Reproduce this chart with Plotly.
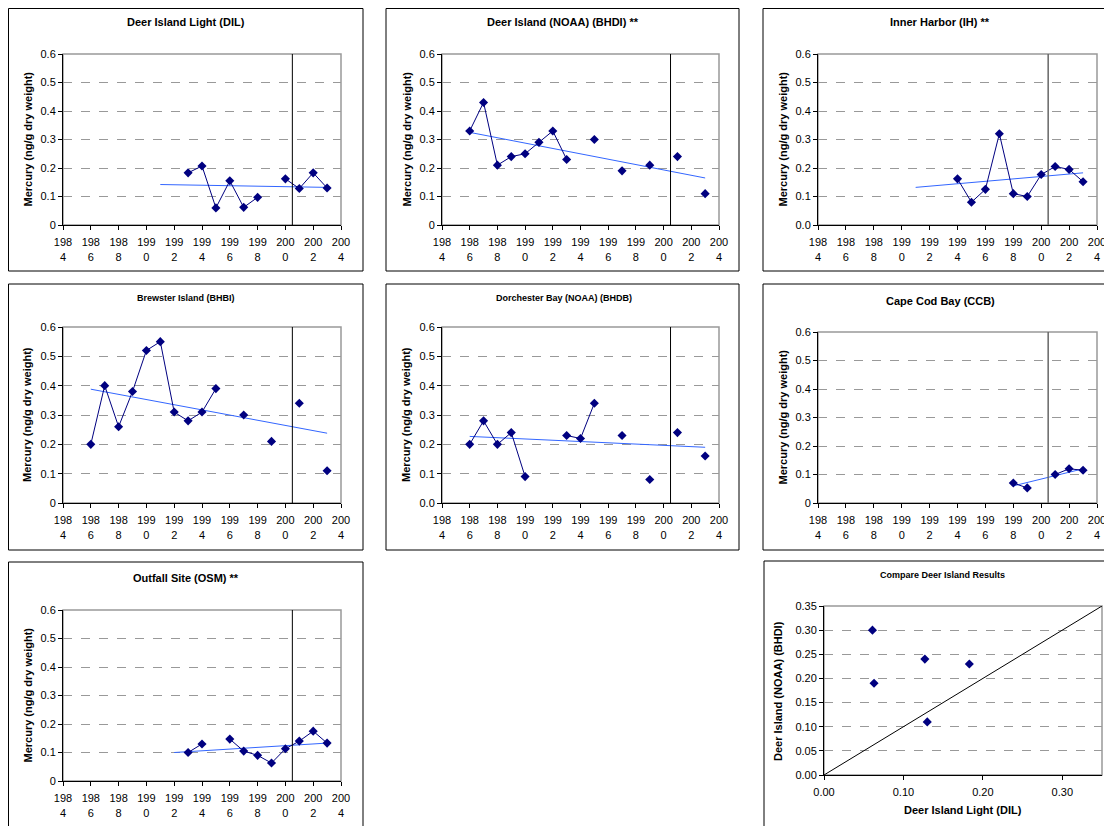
import plotly.graph_objects as go

W, H = 1112, 826

# ---------------- data ----------------
tick_years = [1984, 1986, 1988, 1990, 1992, 1994, 1996, 1998, 2000, 2002, 2004]
tick_year_text = ["198<br>4", "198<br>6", "198<br>8", "199<br>0", "199<br>2", "199<br>4",
                  "199<br>6", "199<br>8", "200<br>0", "200<br>2", "200<br>4"]
y_ticks = [0, 0.1, 0.2, 0.3, 0.4, 0.5, 0.6]
y_text_0 = ["0", "0.1", "0.2", "0.3", "0.4", "0.5", "0.6"]
y_text_00 = ["0.0", "0.1", "0.2", "0.3", "0.4", "0.5", "0.6"]

DIL_years = [1993, 1994, 1995, 1996, 1997, 1998, 1999, 2000, 2001, 2002, 2003]
DIL_hg = [0.183, 0.207, 0.060, 0.155, 0.062, 0.097, None, 0.162, 0.128, 0.183, 0.130]
DIL_trend_years = [1991, 2003]
DIL_trend = [0.142, 0.132]

BHDI_years = list(range(1986, 2004))
BHDI_hg = [0.33, 0.43, 0.21, 0.24, 0.25, 0.29, 0.33, 0.23, None, 0.30, None, 0.19,
           None, 0.21, None, 0.24, None, 0.11]
BHDI_trend_years = [1986, 2003]
BHDI_trend = [0.325, 0.165]

IH_years = list(range(1994, 2004))
IH_hg = [0.162, 0.080, 0.125, 0.320, 0.110, 0.100, 0.177, 0.205, 0.195, 0.152]
IH_trend_years = [1991, 2003]
IH_trend = [0.132, 0.183]

BHBI_years = list(range(1986, 2004))
BHBI_hg = [0.20, 0.40, 0.26, 0.38, 0.52, 0.55, 0.31, 0.28, 0.31, 0.39, None, 0.30,
           None, 0.21, None, 0.34, None, 0.11]
BHBI_trend_years = [1986, 2003]
BHBI_trend = [0.388, 0.238]

BHDB_years = list(range(1986, 2004))
BHDB_hg = [0.20, 0.28, 0.20, 0.24, 0.09, None, None, 0.23, 0.22, 0.34, None, 0.23,
           None, 0.08, None, 0.24, None, 0.16]
BHDB_trend_years = [1986, 2003]
BHDB_trend = [0.227, 0.190]

CCB_years = [1998, 1999, 2000, 2001, 2002, 2003]
CCB_hg = [0.070, 0.053, None, 0.100, 0.120, 0.115]
CCB_trend_years = [1998, 2003]
CCB_trend = [0.060, 0.120]

OSM_years = list(range(1993, 2004))
OSM_hg = [0.100, 0.130, None, 0.147, 0.105, 0.090, 0.063, 0.113, 0.140, 0.175, 0.133]
OSM_trend_years = [1992, 2003]
OSM_trend = [0.100, 0.133]

CMP_DIL = [0.061, 0.063, 0.127, 0.183, 0.130]
CMP_BHDI = [0.30, 0.19, 0.24, 0.23, 0.11]
CMP_line = [0, 0.35]
cmp_x_ticks = [0, 0.1, 0.2, 0.3]
cmp_y_ticks = [0, 0.05, 0.1, 0.15, 0.2, 0.25, 0.3, 0.35]

# ---------------- layout geometry (page pixels) ----------------
FONT = "Liberation Sans, Arial, sans-serif"
NAVY = "#000080"
TREND = "#3366FF"
GRID = "#999999"
OFF = 8  # page body margin: the figure div starts 8px into the page


def px_x(p):
    return (max(p, OFF + 0.5) - OFF) / W


def px_y(p):
    return 1 - (max(p, OFF + 0.5) - OFF) / H


panels = [
    dict(title="Deer Island Light (DIL)", x=DIL_years, y=DIL_hg, tx=DIL_trend_years, ty=DIL_trend,
         area=(63, 341, 54, 225), box=(8, 363, 5, 271), ylab=y_text_0, tsize=11, vc="#000000", tpos=(186, 22)),
    dict(title="Deer Island (NOAA) (BHDI) **", x=BHDI_years, y=BHDI_hg, tx=BHDI_trend_years, ty=BHDI_trend,
         area=(442, 719, 54, 225), box=(386, 739, 5, 271), ylab=y_text_0, tsize=11, vc="#000000", tpos=(563, 22)),
    dict(title="Inner Harbor (IH) **", x=IH_years, y=IH_hg, tx=IH_trend_years, ty=IH_trend,
         area=(818, 1097, 54, 225), box=(763, 1130, 5, 271), ylab=y_text_00, tsize=11, vc="#666666", tpos=(940, 22)),
    dict(title="Brewster Island (BHBI)", x=BHBI_years, y=BHBI_hg, tx=BHBI_trend_years, ty=BHBI_trend,
         area=(63, 341, 327, 503), box=(8, 363, 284, 550), ylab=y_text_0, tsize=9, vc="#000000", tpos=(186, 298)),
    dict(title="Dorchester Bay (NOAA) (BHDB)", x=BHDB_years, y=BHDB_hg, tx=BHDB_trend_years, ty=BHDB_trend,
         area=(442, 719, 327, 503), box=(386, 739, 284, 550), ylab=y_text_00, tsize=9, vc="#000000", tpos=(564, 298)),
    dict(title="Cape Cod Bay (CCB)", x=CCB_years, y=CCB_hg, tx=CCB_trend_years, ty=CCB_trend,
         area=(818, 1097, 332, 503), box=(763, 1130, 284, 550), ylab=y_text_0, tsize=11, vc="#666666", tpos=(940, 301)),
    dict(title="Outfall Site (OSM) **", x=OSM_years, y=OSM_hg, tx=OSM_trend_years, ty=OSM_trend,
         area=(63, 341, 610, 781), box=(8, 363, 562, 850), ylab=y_text_0, tsize=11, vc="#000000", tpos=(186, 578)),
]

fig = go.Figure()
layout = dict(
    template="none",
    width=W, height=H, margin=dict(l=0, r=0, t=0, b=0, pad=0), autosize=False,
    paper_bgcolor="white", plot_bgcolor="white", showlegend=False,
    font=dict(family=FONT, size=11, color="black"),
)
shapes = []
annotations = []


def axis_common():
    return dict(showline=True, linecolor="black", linewidth=1, ticks="outside", ticklen=4,
                tickcolor="black", tickfont=dict(family=FONT, size=11, color="black"),
                zeroline=False, fixedrange=True, automargin=False)


for i, p in enumerate(panels + [None]):
    n = i + 1
    xa = "xaxis" if n == 1 else f"xaxis{n}"
    ya = "yaxis" if n == 1 else f"yaxis{n}"
    xr = "x" if n == 1 else f"x{n}"
    yr = "y" if n == 1 else f"y{n}"
    if p is not None:
        l, r, t, b = p["area"]
        layout[xa] = dict(axis_common(), domain=[px_x(l), px_x(r)], anchor=yr, range=[1984, 2004],
                          tickmode="array", tickvals=tick_years, ticktext=tick_year_text, showgrid=False,
                          ticklabelstandoff=3)
        layout[ya] = dict(axis_common(), domain=[px_y(b), px_y(t)], anchor=xr, range=[0, 0.6],
                          tickmode="array", tickvals=y_ticks, ticktext=p["ylab"], showgrid=True,
                          gridcolor=GRID, griddash="dash", gridwidth=1)
        fig.add_trace(go.Scatter(x=p["tx"], y=p["ty"], mode="lines", xaxis=xr, yaxis=yr,
                                 line=dict(color=TREND, width=1), hoverinfo="skip"))
        fig.add_trace(go.Scatter(x=p["x"], y=p["y"], mode="lines+markers", xaxis=xr, yaxis=yr,
                                 connectgaps=False, line=dict(color=NAVY, width=1),
                                 marker=dict(symbol="diamond", size=7, color=NAVY)))
        shapes.append(dict(type="rect", xref=f"{xr} domain", yref=f"{yr} domain", x0=0, x1=1, y0=0, y1=1,
                           line=dict(color=GRID, width=1.5), layer="below"))
        shapes.append(dict(type="line", xref=xr, yref=f"{yr} domain", x0=2000.5, x1=2000.5, y0=0, y1=1,
                           line=dict(color=p["vc"], width=1.5 if p["vc"] != "#000000" else 1)))
        bx0, bx1, by0, by1 = p["box"]
        shapes.append(dict(type="rect", xref="paper", yref="paper", x0=px_x(bx0), x1=px_x(bx1),
                           y0=px_y(by1), y1=px_y(by0), line=dict(color="black", width=1)))
        annotations.append(dict(text=f"<b>{p['title']}</b>", xref="paper", yref="paper",
                                x=px_x(p["tpos"][0]), y=px_y(p["tpos"][1]), showarrow=False,
                                xanchor="center", yanchor="middle",
                                font=dict(family=FONT, size=p["tsize"], color="black")))
        annotations.append(dict(text="<b>Mercury (ng/g dry weight)</b>", xref="paper", yref="paper",
                                x=px_x(l - 36), y=px_y((t + b) / 2), showarrow=False, textangle=-90,
                                xanchor="center", yanchor="middle",
                                font=dict(family=FONT, size=11, color="black")))
    else:
        l, r, t, b = 824, 1102, 606, 775
        layout[xa] = dict(axis_common(), domain=[px_x(l), px_x(r)], anchor=yr, range=[0, 0.35],
                          tickmode="array", tickvals=cmp_x_ticks, tickformat=".2f", showgrid=False,
                          ticklabelstandoff=3)
        layout[ya] = dict(axis_common(), domain=[px_y(b), px_y(t)], anchor=xr, range=[0, 0.35],
                          tickmode="array", tickvals=cmp_y_ticks, tickformat=".2f", showgrid=True,
                          gridcolor=GRID, griddash="dash", gridwidth=1)
        fig.add_trace(go.Scatter(x=CMP_line, y=CMP_line, mode="lines", xaxis=xr, yaxis=yr,
                                 line=dict(color="black", width=1), hoverinfo="skip"))
        fig.add_trace(go.Scatter(x=CMP_DIL, y=CMP_BHDI, mode="markers", xaxis=xr, yaxis=yr,
                                 marker=dict(symbol="diamond", size=7, color=NAVY)))
        shapes.append(dict(type="rect", xref=f"{xr} domain", yref=f"{yr} domain", x0=0, x1=1, y0=0, y1=1,
                           line=dict(color=GRID, width=1.5), layer="below"))
        shapes.append(dict(type="rect", xref="paper", yref="paper", x0=px_x(764), x1=px_x(1130),
                           y0=px_y(850), y1=px_y(561), line=dict(color="black", width=1)))
        annotations.append(dict(text="<b>Compare Deer Island Results</b>", xref="paper", yref="paper",
                                x=px_x(942), y=px_y(575), showarrow=False, xanchor="center", yanchor="middle",
                                font=dict(family=FONT, size=9, color="black")))
        annotations.append(dict(text="<b>Deer Island (NOAA) (BHDI)</b>", xref="paper", yref="paper",
                                x=px_x(778), y=px_y(691), showarrow=False, textangle=-90,
                                xanchor="center", yanchor="middle",
                                font=dict(family=FONT, size=11, color="black")))
        annotations.append(dict(text="<b>Deer Island Light (DIL)</b>", xref="paper", yref="paper",
                                x=px_x(963), y=px_y(810), showarrow=False,
                                xanchor="center", yanchor="middle",
                                font=dict(family=FONT, size=11, color="black")))

layout["shapes"] = shapes
layout["annotations"] = annotations
fig.update_layout(**layout)
fig.write_html("out.html")
